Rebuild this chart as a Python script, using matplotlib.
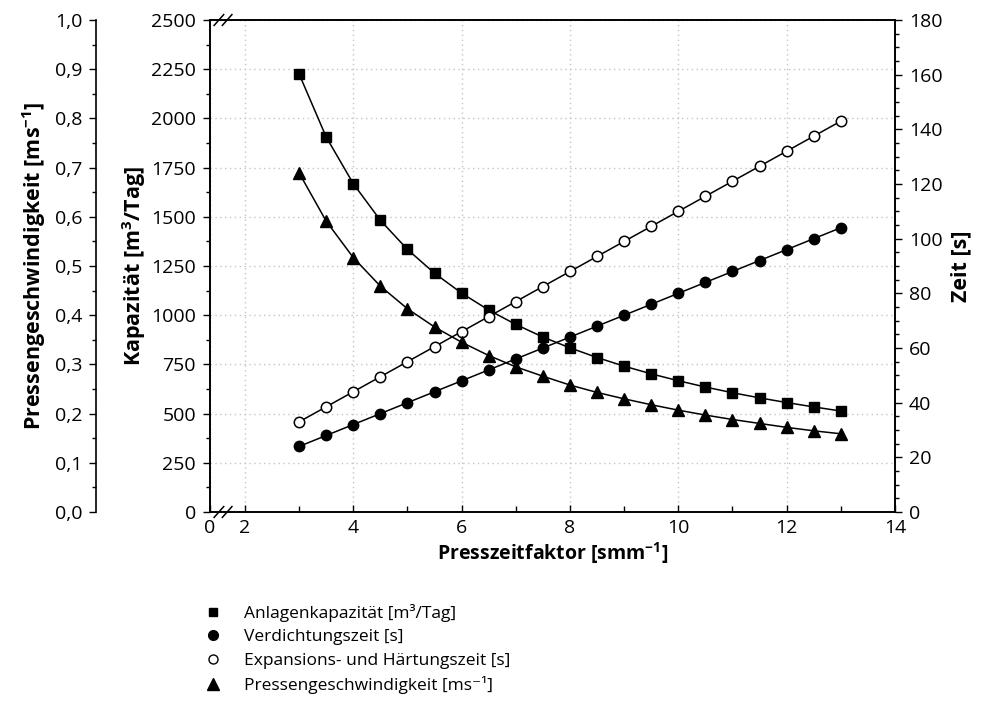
import matplotlib
matplotlib.use("Agg")
import matplotlib.pyplot as plt
from matplotlib.lines import Line2D
from matplotlib.ticker import MultipleLocator, FixedLocator

plt.rcParams['font.family'] = ['Open Sans', 'DejaVu Sans']
plt.rcParams['mathtext.fontset'] = 'custom'
plt.rcParams['mathtext.rm'] = 'Open Sans'
plt.rcParams['mathtext.bf'] = 'Open Sans:bold'
plt.rcParams['mathtext.it'] = 'Open Sans:italic'

# Presszeitfaktor [smm-1]
faktor = [3, 3.5, 4, 4.5, 5, 5.5, 6, 6.5, 7, 7.5, 8, 8.5, 9, 9.5, 10,
          10.5, 11, 11.5, 12, 12.5, 13]

# Anlagenkapazität [m3/Tag]
kapazitaet = [2225, 1905, 1668, 1482, 1334, 1213, 1112, 1026, 953, 889, 834,
              785, 741, 702, 667, 635, 606, 580, 556, 534, 513]

# Verdichtungszeit [s]
verdichtung = [24, 28, 32, 36, 40, 44, 48, 52, 56, 60, 64, 68, 72, 76, 80,
               84, 88, 92, 96, 100, 104]

# Expansions- und Härtungszeit [s]
expansion = [33, 38.5, 44, 49.5, 55, 60.5, 66, 71.5, 77, 82.5, 88, 93.5, 99,
             104.5, 110, 115.5, 121, 126.5, 132, 137.5, 143]

# Pressengeschwindigkeit [ms-1]
geschw = [0.689, 0.591, 0.517, 0.459, 0.413, 0.376, 0.345, 0.318, 0.295,
          0.276, 0.258, 0.243, 0.230, 0.218, 0.207, 0.197, 0.188, 0.180,
          0.172, 0.165, 0.159]

x_ticks = [2, 4, 6, 8, 10, 12, 14]
x_labels = ['2', '4', '6', '8', '10', '12', '14']
v_ticks = [0.0, 0.1, 0.2, 0.3, 0.4, 0.5, 0.6, 0.7, 0.8, 0.9, 1.0]
v_labels = ['0,0', '0,1', '0,2', '0,3', '0,4', '0,5', '0,6', '0,7', '0,8',
            '0,9', '1,0']

W, H = 981, 718
fig = plt.figure(figsize=(W / 100, H / 100), dpi=100)
left, right, top, bottom = 210, 895, 20, 512
ax = fig.add_axes([left / W, 1 - bottom / H, (right - left) / W, (bottom - top) / H])

fs = 14        # tick labels
fl = 15.5      # y axis titles
fx = 14        # x axis title
fleg = 12.5    # legend
XMIN = 1.354

# Kapazität (main axis)
ax.plot(faktor, kapazitaet, color='black', lw=1.1, marker='s', ms=6.5,
        mfc='black', mec='black', zorder=5)
ax.set_xlim(XMIN, 14)
ax.set_ylim(0, 2500)
ax.xaxis.set_major_locator(FixedLocator([XMIN] + x_ticks))
ax.set_xticklabels(['0'] + x_labels)
ax.xaxis.set_minor_locator(FixedLocator([3, 5, 7, 9, 11, 13]))
ax.yaxis.set_major_locator(MultipleLocator(250))
ax.yaxis.set_minor_locator(MultipleLocator(125))
ax.tick_params(axis='x', which='both', direction='in', labelsize=fs, pad=5,
               color='black', width=1)
ax.tick_params(axis='x', which='major', length=5)
ax.tick_params(axis='x', which='minor', length=4)
ax.tick_params(axis='y', which='both', direction='out', labelsize=fs, pad=5,
               width=1)
ax.tick_params(axis='y', which='major', length=5)
ax.tick_params(axis='y', which='minor', length=3)
ax.grid(True, which='major', color='#c4c4c4', linestyle=(0, (1, 2.5)), lw=1)
ax.set_axisbelow(True)
for s in ax.spines.values():
    s.set_linewidth(1.2)
ax.set_xlabel(r'Presszeitfaktor [smm$^{\mathbf{-1}}$]', fontsize=fx,
              fontweight='bold', labelpad=3)
ax.set_ylabel(r'Kapazität [m$^{\mathbf{3}}$/Tag]', fontsize=fl,
              fontweight='bold', labelpad=2)

# Zeit (right axis)
axt = ax.twinx()
axt.plot(faktor, verdichtung, color='black', lw=1.1, marker='o', ms=7.5,
         mfc='black', mec='black', zorder=5)
axt.plot(faktor, expansion, color='black', lw=1.1, marker='o', ms=7.5,
         mfc='white', mec='black', mew=1.1, zorder=5)
axt.set_ylim(0, 180)
axt.yaxis.set_major_locator(MultipleLocator(20))
axt.yaxis.set_minor_locator(MultipleLocator(5))
axt.tick_params(axis='y', which='both', direction='out', labelsize=fs, pad=5,
                width=1)
axt.tick_params(axis='y', which='major', length=5)
axt.tick_params(axis='y', which='minor', length=3)
axt.set_ylabel('Zeit [s]', fontsize=fl, fontweight='bold', labelpad=6)
for s in axt.spines.values():
    s.set_linewidth(1.2)

# Pressengeschwindigkeit (outer left axis)
axv = ax.twinx()
axv.plot(faktor, geschw, color='black', lw=1.1, marker='^', ms=9,
         mfc='black', mec='black', zorder=5)
axv.set_ylim(0, 1.0)
axv.spines['left'].set_position(('axes', (96 - left) / (right - left)))
axv.spines['left'].set_visible(True)
axv.spines['left'].set_linewidth(1.2)
for k in ['right', 'top', 'bottom']:
    axv.spines[k].set_visible(False)
axv.yaxis.set_label_position('left')
axv.yaxis.set_ticks_position('left')
axv.set_yticks(v_ticks)
axv.set_yticklabels(v_labels)
axv.yaxis.set_minor_locator(MultipleLocator(0.05))
axv.tick_params(axis='y', which='both', direction='out', labelsize=fs, pad=5,
                width=1)
axv.tick_params(axis='y', which='major', length=5)
axv.tick_params(axis='y', which='minor', length=3)
axv.set_ylabel(r'Pressengeschwindigkeit [ms$^{\mathbf{-1}}$]', fontsize=fl,
               fontweight='bold', labelpad=5)

# axis break marks
for yb in [0.0, 1.0]:
    for dx in [0.0, 0.012]:
        ax.plot([0.006 + dx, 0.020 + dx], [yb - 0.011, yb + 0.011],
                transform=ax.transAxes, color='black', lw=1.1,
                clip_on=False, zorder=10)

# legend
handles = [
    Line2D([], [], ls='none', marker='s', ms=6, mfc='black', mec='black'),
    Line2D([], [], ls='none', marker='o', ms=7, mfc='black', mec='black'),
    Line2D([], [], ls='none', marker='o', ms=6.5, mfc='white', mec='black'),
    Line2D([], [], ls='none', marker='^', ms=8, mfc='black', mec='black'),
]
labels = ['Anlagenkapazität [m³/Tag]', 'Verdichtungszeit [s]',
          'Expansions- und Härtungszeit [s]',
          'Pressengeschwindigkeit [ms⁻¹]']
fig.legend(handles, labels, loc='upper left',
           bbox_to_anchor=(204 / W, 1 - 604 / H), frameon=False,
           fontsize=fleg, handlelength=1.0, handletextpad=1.3,
           labelspacing=0.42, borderpad=0, borderaxespad=0)

fig.savefig('out.png', dpi=100)
